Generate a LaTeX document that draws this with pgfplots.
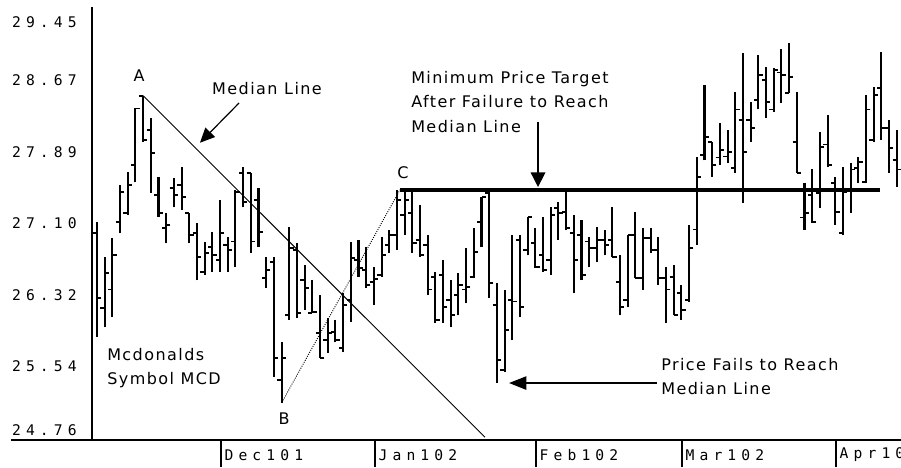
\documentclass[border=0pt]{standalone}
\usepackage{fontspec}
\setmainfont[LetterSpace=9]{DejaVu Sans}
\newfontfamily\tickfont[LetterSpace=35]{DejaVu Sans Mono}
\usepackage{pgfplots}
\usepackage{pgfplotstable}
\pgfplotsset{compat=1.18}
\usetikzlibrary{arrows.meta}

\pgfdeclareplotmark{lefttick}{\pgfpathmoveto{\pgfqpoint{-\pgfplotmarksize}{0pt}}\pgfpathlineto{\pgfqpoint{0pt}{0pt}}\pgfusepathqstroke}
\pgfdeclareplotmark{righttick}{\pgfpathmoveto{\pgfqpoint{\pgfplotmarksize}{0pt}}\pgfpathlineto{\pgfqpoint{0pt}{0pt}}\pgfusepathqstroke}

\pgfplotstableread{
i O H L C
0 27.00 27.12 25.88 26.30
1 26.19 26.74 25.98 26.57
2 26.39 26.95 26.09 26.76
3 27.12 27.52 27.00 27.45
4 27.22 27.66 27.20 27.52
5 27.74 28.36 27.55 28.35
6 28.49 28.49 27.99 28.01
7 28.12 28.25 27.44 27.87
8 27.41 27.61 27.18 27.22
9 27.06 27.22 26.89 27.09
10 27.49 27.60 27.28 27.41
11 27.52 27.72 27.25 27.39
12 27.22 27.22 26.89 26.98
13 27.00 27.11 26.49 26.74
14 26.58 26.91 26.55 26.79
15 26.85 27.01 26.58 26.76
16 26.71 27.36 26.58 27.00
17 26.87 26.96 26.58 26.82
18 26.91 27.47 26.63 27.45
19 27.65 27.72 27.28 27.34
20 27.65 27.65 26.79 26.91
21 27.36 27.49 26.85 27.01
22 26.51 26.74 26.41 26.60
23 26.69 26.74 25.44 25.65
24 25.41 25.82 25.16 25.65
25 26.11 27.07 26.06 26.84
26 26.82 26.89 26.08 26.14
27 26.49 26.66 26.17 26.41
28 26.14 26.49 26.14 26.15
29 25.92 26.33 25.65 25.65
30 25.84 26.08 25.70 25.92
31 25.93 26.06 25.82 25.84
32 25.76 26.35 25.71 26.22
33 26.28 26.91 26.04 26.73
34 26.71 26.93 26.53 26.62
35 26.60 26.85 26.41 26.44
36 26.47 26.63 26.22 26.50
37 26.55 26.96 26.53 26.76
38 26.87 27.04 26.79 26.98
39 26.98 27.47 26.82 27.36
40 27.20 27.45 26.98 27.36
41 27.22 27.45 26.79 26.89
42 26.93 27.31 26.74 26.76
43 26.87 26.98 26.33 26.39
44 26.53 26.58 26.03 26.06
45 26.55 26.71 26.03 26.20
46 26.28 26.49 25.98 26.11
47 26.33 26.57 26.11 26.44
48 26.39 26.84 26.24 26.42
49 26.53 27.06 26.51 26.80
50 27.12 27.39 26.85 27.39
51 27.44 27.47 26.30 26.46
52 26.22 26.46 25.38 25.63
53 25.52 26.39 25.50 25.95
54 26.28 26.98 25.84 26.26
55 26.93 26.98 26.09 26.20
56 26.82 27.18 26.76 27.18
57 26.89 27.06 26.62 26.63
58 26.76 27.17 26.58 26.60
59 26.71 27.28 26.55 27.20
60 27.27 27.34 26.93 27.22
61 27.23 27.47 27.04 27.06
62 27.00 27.20 26.35 26.71
63 26.98 27.14 26.49 26.55
64 26.91 26.96 26.63 26.84
65 26.84 27.07 26.69 26.93
66 26.93 27.04 26.76 26.87
67 26.93 27.28 26.74 26.74
68 26.47 26.76 26.11 26.20
69 26.28 26.98 26.20 26.98
70 26.98 27.23 26.51 26.51
71 26.51 27.06 26.39 26.95
72 26.95 27.06 26.79 26.82
73 26.82 26.96 26.44 26.51
74 26.51 26.63 26.03 26.39
75 26.53 26.66 26.11 26.11
76 26.35 26.44 26.06 26.17
77 26.28 27.09 26.26 26.84
78 27.04 27.82 26.87 27.61
79 27.85 28.61 27.79 28.04
80 27.99 27.99 27.61 27.74
81 27.82 28.19 27.74 27.90
82 27.83 28.12 27.76 27.88
83 27.71 28.53 27.65 28.34
84 28.23 28.95 27.33 27.88
85 28.23 28.42 27.99 28.14
86 28.44 28.93 28.34 28.71
87 28.66 28.80 28.25 28.42
88 28.34 28.79 28.31 28.77
89 28.74 28.99 28.41 28.71
90 28.52 29.06 28.52 28.69
91 27.99 28.53 27.65 27.65
92 27.17 27.54 27.04 27.22
93 27.41 27.69 27.11 27.12
94 27.44 28.10 27.27 27.93
95 27.96 28.28 27.72 27.74
96 27.54 27.61 27.09 27.23
97 27.00 27.72 26.98 27.45
98 27.47 27.76 27.22 27.69
99 27.71 27.83 27.54 27.77
100 27.55 28.50 27.54 28.34
101 28.01 28.58 27.99 28.50
102 28.57 28.96 28.01 28.14
103 28.14 28.23 27.65 27.92
104 27.79 28.12 27.50 27.69
}\ohlc

\begin{document}
\begin{tikzpicture}
\begin{axis}[
  name=ax,
  scale only axis,
  width=606.75pt, height=324.75pt,
  xmin=-0.65, xmax=104.55,
  ymin=24.76, ymax=29.45,
  axis x line*=bottom, axis y line*=left,
  axis line style={-, line width=1.3pt},
  tick align=outside,
  major tick length=20.25pt,
  xtick={16.12,36.15,57.09,76.07,96.1},
  xticklabels={Dec101,Jan102,Feb102,Mar102,Apr102},
  xtick style={line width=1pt, black},
  ytick={24.87,25.56,26.33,27.11,27.88,28.66,29.29},
  yticklabels={24.76,25.54,26.32,27.10,27.89,28.67,29.45},
  ytick style={draw=none},
  ticklabel style={font=\tickfont\fontsize{11}{13}\selectfont},
  xticklabel style={anchor=west, inner sep=0pt, xshift=2.5pt, yshift=9pt},
  yticklabel style={anchor=east, inner sep=0pt, xshift=9pt},
  clip=false,
]
% high-low bars
\addplot[draw=none, forget plot,
  error bars/.cd, y dir=plus, y explicit, error mark=none,
  error bar style={draw=black, solid, line width=1.55pt}]
  table[x=i, y=L, y error expr=\thisrow{H}-\thisrow{L}] {\ohlc};
% open ticks
\addplot[only marks, mark=lefttick, mark size=3.2pt, mark options={line width=1.4pt, black}] table[x=i, y=O] {\ohlc};
% close ticks
\addplot[only marks, mark=righttick, mark size=3.2pt, mark options={line width=1.4pt, black}] table[x=i, y=C] {\ohlc};
% median line A -> down
\addplot[black, line width=0.7pt] coordinates {(6,28.49) (50.45,24.79)};
% B -> C
\addplot[black, line width=0.7pt, densely dotted] coordinates {(24.19,25.19) (39.4,27.47)};
% target line
\addplot[black, line width=2.8pt] coordinates {(39.4,27.47) (101.82,27.47)};
% arrows
\draw[line width=0.9pt, -{Triangle[length=11pt,width=10pt]}] (axis cs:18.47,28.41) -- (axis cs:13.39,27.98);
\draw[line width=1.1pt, -{Triangle[length=11pt,width=11pt]}] (axis cs:57.35,28.205) -- (axis cs:57.35,27.50);
\draw[line width=1.1pt, -{Triangle[length=13pt,width=10pt]}] (axis cs:72.82,25.377) -- (axis cs:53.58,25.377);
% labels
\begin{scope}[every node/.style={inner sep=0pt, font=\fontsize{12}{14}\selectfont}]
\node[anchor=base] at (axis cs:5.46,28.639) {A};
\node[anchor=base] at (axis cs:24.32,24.93) {B};
\node[anchor=base] at (axis cs:39.79,27.588) {C};
\node[anchor=base west] at (axis cs:14.95,28.498) {Median Line};
\node[anchor=base west] at (axis cs:40.83,28.617) {Minimum Price Target};
\node[anchor=base west] at (axis cs:40.83,28.357) {After Failure to Reach};
\node[anchor=base west] at (axis cs:40.83,28.086) {Median Line};
\node[anchor=base west] at (axis cs:1.30,25.616) {Mcdonalds};
\node[anchor=base west] at (axis cs:1.30,25.356) {Symbol MCD};
\node[anchor=base west] at (axis cs:73.34,25.518) {Price Fails to Reach};
\node[anchor=base west] at (axis cs:73.34,25.248) {Median Line};
\end{scope}
\end{axis}
\draw[line width=1.3pt] ([xshift=0.65pt]ax.south west) -- ++(-61.4pt,0);
\pgfresetboundingbox
\path ([shift={(-69pt,-20.25pt)}]ax.south west) rectangle ([shift={(0pt,5.25pt)}]ax.north east);
\end{tikzpicture}
\end{document}
